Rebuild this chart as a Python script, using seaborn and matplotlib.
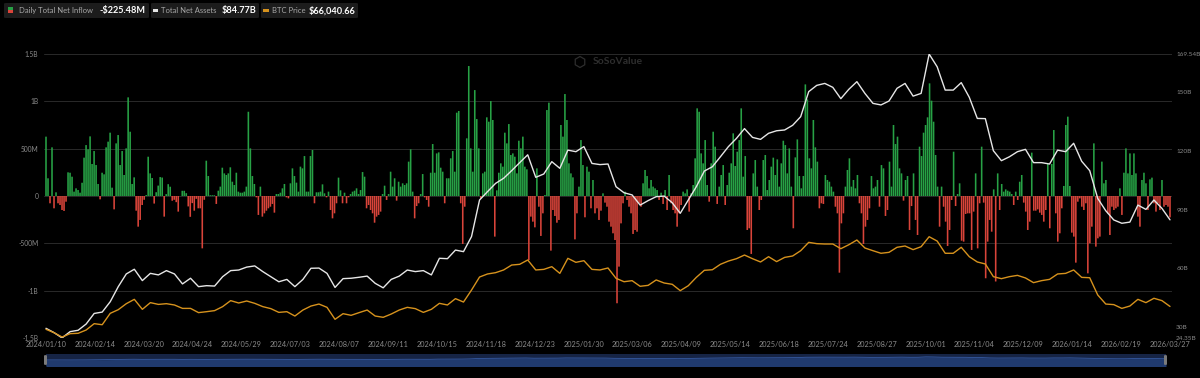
import numpy as np
import pandas as pd
import seaborn as sns
import matplotlib.pyplot as plt
from matplotlib.patches import FancyBboxPatch, Rectangle, RegularPolygon

# x axis labels (evenly spaced over the trading days)
date_labels = ['2024/01/10', '2024/02/14', '2024/03/20', '2024/04/24', '2024/05/29',
               '2024/07/03', '2024/08/07', '2024/09/11', '2024/10/15', '2024/11/18',
               '2024/12/23', '2025/01/30', '2025/03/06', '2025/04/09', '2025/05/14',
               '2025/06/18', '2025/07/24', '2025/08/27', '2025/10/01', '2025/11/04',
               '2025/12/09', '2026/01/14', '2026/02/19', '2026/03/27']

# daily total net inflow, million USD (one value per trading day)
daily_inflow_m = [
    627, 187, -77, 514, -130, 39, -77, -95, -148, -158,
    -60, 250, 246, 204, 46, 81, 63, 35, 140, 405,
    538, 493, 630, 338, 475, 327, 127, -35, 246, 229,
    514, 574, 669, 88, -141, 556, 644, 327, 475, 222,
    503, 1042, 679, 127, 197, -155, -324, -253, -95, -40,
    10, 415, 239, 190, -80, 40, 110, 200, 195, -218,
    20, 125, 98, -50, -40, -65, -165, 0, 55, 55,
    30, -110, -220, -75, -155, -30, -130, -130, -553, -40,
    373, 211, 8, 8, 8, -84, 56, 99, 299, 239,
    222, 239, 303, 151, 116, 246, 46, 35, 35, 46,
    99, 890, 503, 211, 127, -14, -200, 99, -218, -183,
    -155, -130, -113, -84, -176, 21, 21, 35, 81, 127,
    -14, -25, 134, 292, 211, 141, 46, 310, 292, 422,
    46, 46, 422, 486, -77, 39, 39, 46, 123, 28,
    -14, 46, -148, -236, -183, -77, 194, 60, -77, 35,
    -77, -14, 21, 46, 56, 81, 21, 63, 253, 204,
    -130, -95, -148, -183, -282, -218, -200, -165, 21, 109,
    -42, 21, 257, 99, 187, -49, 151, 99, 134, 116,
    134, 363, 493, 46, -236, -106, -77, 21, 232, -14,
    -42, -113, 246, 549, 246, 450, 461, 299, 257, -77,
    187, 187, 398, 475, 257, 880, 898, -77, -507, -113,
    609, 1373, 503, 257, 1119, 813, 503, -25, 239, 257,
    831, 785, 1003, 803, -429, 60, 246, 345, 310, 669,
    556, 760, 433, 450, 415, 239, 584, 503, 627, 310,
    282, -676, -218, -271, -331, 292, -113, -422, -183, 10,
    908, 986, -577, -148, -211, -282, -253, 750, 627, 1077,
    803, 345, 239, 197, -458, -183, 99, 591, 327, -225,
    310, 257, -130, 169, -183, -130, -253, -155, 28, -70,
    -113, -271, -324, -394, -465, -1133, -746, -289, -77, 46,
    -42, -113, -183, -401, -359, -377, -77, -113, 134, 275,
    211, 81, 169, 99, 81, 63, -42, 35, -84, 63,
    -148, 222, -77, -148, -183, -324, -183, -95, 46, 28,
    70, -165, 28, 116, 398, 926, 890, 450, 345, 591,
    116, -60, 345, 679, 521, -84, 99, 222, 327, -95,
    116, 246, 345, 662, 317, 468, 591, 926, 204, 422,
    -359, -341, -612, 239, 380, 99, -148, -42, 380, 433,
    63, 169, 310, 405, 222, 387, 99, 345, 584, 538,
    239, 503, 99, -341, 408, 598, 211, 81, 211, 1179,
    1021, 398, 292, 803, 514, 363, -130, -77, -84, 222,
    169, 151, 99, 46, -113, -183, -810, -289, -183, 99,
    275, 398, 99, 169, 81, 222, -77, -183, -507, -324,
    -253, -130, 211, 81, 99, 169, -113, 327, 292, -211,
    -148, 363, 99, 750, 549, 627, 292, 239, -49, 169,
    211, -359, -106, 239, -253, -412, 521, 422, 669, 750,
    831, 1190, 1007, 785, 433, 99, -324, 99, -113, -271,
    -528, -359, -42, 468, -106, 21, 134, -472, -482, -190,
    -183, -183, -570, -165, 239, -553, -77, 521, -70, -869,
    -482, -253, -377, 70, -903, 239, -148, 127, 46, 70,
    56, 46, 21, -95, 46, -42, 151, 222, -70, -165,
    -359, -271, 458, -155, -155, -141, -176, -200, -271, -148,
    338, -341, 338, 697, -183, -482, -394, -130, 106, 750,
    838, 106, -387, -429, -704, -60, -25, -113, -148, -77,
    -817, -500, -324, 556, -535, -447, -429, 363, 134, 169,
    -183, -412, -113, -148, -130, -113, 81, -200, 246, 503,
    239, 450, 222, 450, 239, -218, -324, 169, 246, 134,
    -148, 176, 194, -77, -165, -77, -148, 169, -113, -95,
    -113, -225.48,
]

# total net assets, billion USD (every 4th trading day)
net_assets_b = [
    29.3, 27.1, 24.4, 27.6, 28.3, 31.5, 36.9, 37.6, 42.9, 50.6,
    57.1, 59.5, 53.7, 57.4, 56.6, 58.8, 57.1, 52.0, 54.9, 50.6,
    51.1, 50.9, 55.7, 58.8, 59.1, 60.6, 61.2, 58.3, 55.7, 53.1,
    54.3, 50.6, 54.3, 60.0, 60.1, 57.4, 50.2, 54.7, 54.9, 55.4,
    56.0, 52.3, 50.0,
    54.3, 56.0, 59.1, 58.3, 58.8, 56.6, 65.1, 64.9, 69.3, 68.5,
    76.2, 94.9, 99.2, 103.4, 106.0, 109.9, 114.0, 118.0, 106.5, 108.2,
    114.5, 111.1, 120.4, 119.6,
    122.2, 113.6, 113.0, 113.3, 101.7, 98.6, 97.5, 92.3, 94.6, 96.6,
    96.9, 93.5, 88.1, 94.9, 101.7, 109.7, 111.9, 117.0, 122.2, 126.4,
    131.4, 126.9, 125.9,
    129.0, 130.3, 130.7, 133.1, 137.5, 150.3, 153.5, 154.5, 152.5, 146.7,
    151.5, 155.4, 149.4, 144.3, 143.5, 145.5, 152.0, 154.5, 148.0, 149.4,
    169.5, 163.0, 151.1, 151.1, 154.9,
    147.4, 136.6, 136.5, 120.1, 115.0, 117.0, 119.6, 120.8, 114.0, 114.0,
    113.3, 120.4, 119.6, 123.9, 114.7, 109.9, 95.7, 89.4, 84.7, 83.0,
    83.6, 92.3, 90.1, 94.9, 90.6, 84.77,
]

# BTC price, thousand USD (every 4th trading day)
btc_price_k = [
    46.6, 43.7, 40.0, 42.9, 43.2, 46.0, 51.4, 50.5, 60.2, 63.3,
    68.4, 72.1, 63.6, 69.3, 67.8, 68.4, 67.3, 64.4, 64.4, 60.8,
    61.6, 62.5, 65.9, 71.0, 69.0, 70.7, 68.7, 65.9, 64.2, 61.0,
    61.6, 57.9, 63.0, 66.4, 68.1, 65.3, 55.1, 59.9, 58.5, 60.8,
    63.0, 57.9, 56.8,
    59.6, 63.0, 65.3, 64.2, 61.0, 63.6, 68.7, 67.3, 72.7, 69.8,
    80.0, 91.1, 93.7, 94.8, 97.1, 101.3, 101.9, 105.6, 97.1, 97.6,
    99.9, 94.2, 107.0, 103.6,
    105.0, 97.6, 97.1, 98.8, 90.0, 87.1, 88.0, 83.2, 84.0, 88.6,
    86.0, 84.9, 79.5, 83.7, 90.8, 96.8, 97.3, 101.9, 104.7, 106.7,
    109.8, 106.7, 103.9,
    108.4, 104.2, 107.8, 109.0, 113.5, 120.6, 119.5, 119.2, 119.2, 115.2,
    118.6, 122.6, 115.8, 113.5, 111.3, 112.1, 116.4, 117.5, 114.4, 116.9,
    125.4, 121.7, 111.3, 111.3, 116.4,
    108.4, 103.9, 102.2, 91.4, 89.7, 91.4, 92.5, 90.3, 86.3, 88.0,
    89.1, 93.7, 94.2, 97.1, 90.8, 90.5, 75.8, 68.1, 67.6, 64.4,
    66.4, 72.1, 69.3, 73.0, 71.0, 66.04066,
]

GREEN = '#27a145'
RED = '#d9443a'
WHITE = '#e6e6e6'
ORANGE = '#d6921d'
TICK = '#8a8a8a'

sns.set_theme(style='dark')
plt.rcParams['font.family'] = ['Lato', 'DejaVu Sans']
plt.rcParams['patch.force_edgecolor'] = False

W, H = 1200, 378
fig = plt.figure(figsize=(W / 100, H / 100), dpi=100, facecolor='black')

ax = fig.add_axes([44 / W, 40 / H, 1128 / W, 284 / H])
ax.set_facecolor('black')

n_days = len(daily_inflow_m)
df = pd.DataFrame({'day': np.arange(n_days), 'inflow': np.array(daily_inflow_m) * 1e6})
df['color'] = np.where(df['inflow'] >= 0, GREEN, RED)
bars = ax.bar(df['day'], df['inflow'], width=0.8, color=list(df['color']),
              edgecolor='none', linewidth=0)
for b in bars:
    b.set_snap(False)

ax.set_xlim(-1, n_days)
ax.set_ylim(-1.5e9, 1.5e9)
ax.set_yticks([-1.5e9, -1e9, -5e8, 0, 5e8, 1e9, 1.5e9])
ax.set_yticklabels(['-1.5B', '-1B', '-500M', '0', '500M', '1B', '1.5B'])
tick_pos = np.linspace(0, n_days - 1, len(date_labels))
ax.set_xticks(tick_pos)
ax.set_xticklabels(date_labels)
ax.grid(axis='y', color='#2a2a2a', lw=0.7)
ax.grid(axis='x', visible=False)
ax.tick_params(axis='y', length=0, labelsize=4.8, labelcolor=TICK, pad=4)
ax.tick_params(axis='x', length=0, labelsize=5.3, labelcolor=TICK, pad=2.5)
for s in ax.spines.values():
    s.set_visible(False)

line_x = np.linspace(0, n_days - 1, len(net_assets_b))

# total net assets (right axis)
ax2 = ax.twinx()
sns.lineplot(x=line_x, y=net_assets_b, color=WHITE, lw=1.0, ax=ax2)
ax2.set_ylim(24.35, 169.54)
ax2.set_yticks([24.35, 30, 60, 90, 120, 150, 169.54])
ax2.set_yticklabels(['24.35B', '30B', '60B', '90B', '120B', '150B', '169.54B'])
ax2.tick_params(axis='y', length=0, labelsize=4.6, labelcolor=TICK, pad=3)
ax2.grid(False)
for s in ax2.spines.values():
    s.set_visible(False)

# BTC price (hidden axis)
ax3 = ax.twinx()
sns.lineplot(x=line_x, y=btc_price_k, color=ORANGE, lw=1.0, ax=ax3)
ax3.set_ylim(39.2, 280.9)
ax3.axis('off')
ax.set_xlim(-1, n_days)

# watermark
fig.text(593 / W, 1 - 62 / H, 'SoSoValue', color='#2e2e2e', fontsize=7.5,
         fontweight='bold', va='center')
fig.add_artist(RegularPolygon((5.80, (H - 62) / 100), 6, radius=0.055, fill=False,
                              ec='#2e2e2e', lw=0.9, transform=fig.dpi_scale_trans))

# navigator strip
nav = fig.add_axes([46 / W, 12 / H, 1120 / W, 12 / H])
nav.set_facecolor('#162445')
nav.fill_between(line_x, net_assets_b, -300, color='#203a6e', lw=0)
sns.lineplot(x=line_x, y=net_assets_b, color='#3559a0', lw=0.6, ax=nav)
nav.set_xlim(0, n_days - 1)
nav.set_ylim(-250, 300)
nav.set_xticks([])
nav.set_yticks([])
nav.set_xlabel('')
nav.set_ylabel('')
for s in nav.spines.values():
    s.set_visible(False)
for hx in (44, 1164):
    fig.add_artist(FancyBboxPatch((hx / W, 13 / H), 3 / W, 10 / H,
                                  boxstyle='round,pad=0,rounding_size=0.002',
                                  fc='#7a7a7a', ec='none', transform=fig.transFigure))

# legend pills
def px(x, y):
    return x / W, 1 - y / H

pills = [(4, 145), (151, 108), (261, 97)]
for x0, w in pills:
    fig.add_artist(FancyBboxPatch(px(x0, 18), w / W, 15 / H,
                                  boxstyle='round,pad=0,rounding_size=0.002',
                                  fc='#1c1c1c', ec='none', transform=fig.transFigure))

fig.add_artist(Rectangle(px(8, 10), 5 / W, 3 / H, fc=GREEN, ec='none', transform=fig.transFigure))
fig.add_artist(Rectangle(px(8, 13), 5 / W, 3 / H, fc=RED, ec='none', transform=fig.transFigure))
fig.add_artist(Rectangle(px(153, 11.5), 5 / W, 2.5 / H, fc=WHITE, ec='none', transform=fig.transFigure))
fig.add_artist(Rectangle(px(263, 11.5), 6 / W, 2.5 / H, fc=ORANGE, ec='none', transform=fig.transFigure))

lbl = dict(fontsize=5.5, color='#a8a8a8', va='center')
val = dict(fontsize=6.6, color='white', fontweight='bold', va='center')
fig.text(*px(19, 10.5), 'Daily Total Net Inflow', **lbl)
fig.text(*px(99, 10.5), f'-${abs(daily_inflow_m[-1]):.2f}M', **val)
fig.text(*px(161, 10.5), 'Total Net Assets', **lbl)
fig.text(*px(222, 10.5), f'${net_assets_b[-1]:.2f}B', **val)
fig.text(*px(272, 10.5), 'BTC Price', **lbl)
fig.text(*px(309, 10.5), f'${btc_price_k[-1] * 1000:,.2f}', **val)

fig.savefig('out.png', dpi=100, facecolor='black')
